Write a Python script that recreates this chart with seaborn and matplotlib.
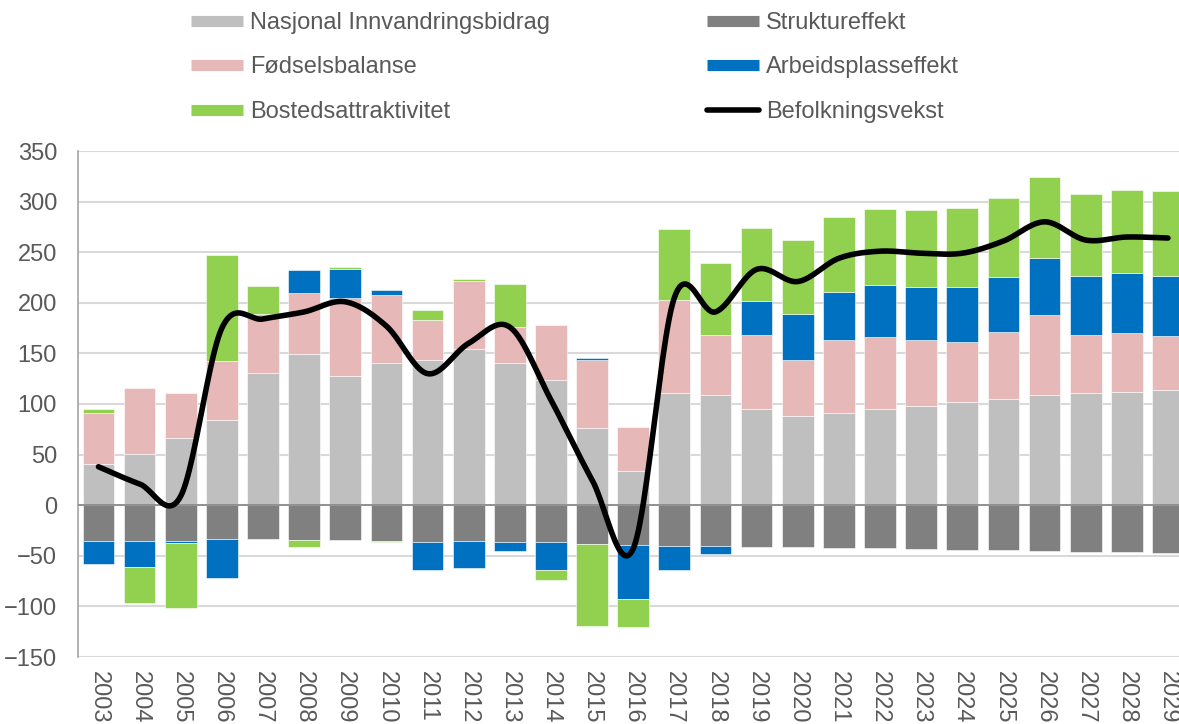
import numpy as np
import pandas as pd
import matplotlib
matplotlib.use("Agg")
import matplotlib.pyplot as plt
import seaborn as sns
from matplotlib.lines import Line2D

years = [str(y) for y in range(2003, 2030)]

nasjonal = [41, 51, 66.5, 84, 131, 149, 128, 141, 143, 154, 141, 124, 76, 34, 111,
            109, 95.5, 88.6, 91.6, 95.5, 98.5, 102, 105.4, 108.4, 111, 112.3, 114.3]
struktur = [-35, -35, -35, -33, -33, -34, -34, -35, -36, -35, -36, -36, -38.5, -39, -40,
            -40, -41, -41, -42, -42.5, -43, -44, -44.5, -45, -45.8, -46.4, -47]
fodsel = [50, 65, 44, 58.6, 58, 61, 76.5, 67, 40, 68, 35, 54, 67, 43, 92,
          59, 72.5, 54.7, 71.4, 70.5, 64.5, 59.7, 66.2, 79.6, 57.3, 58.3, 53]
arbeid = [-23, -26, -2.5, -39, 0, 22, 29, 5, -28, -27.5, -9, -28, 2, -54, -24,
          -8, 34, 45.7, 48, 52, 52.7, 54, 54, 56.4, 58, 58.4, 59.3]
bosted = [4.5, -36, -64, 105, 28, -7, 1.5, -1.5, 10, 1.5, 43, -9.5, -81, -27, 70,
          71, 72, 73.5, 74, 75, 76.3, 77.8, 78.4, 80, 81.3, 82, 83.4]
vekst = [38, 21, 9, 175, 184, 191, 201, 177, 130, 160, 176, 104, 25, -43, 205,
         191, 233, 221, 244, 251, 249, 249, 261, 280, 262, 265, 264]

series = [
    ("Nasjonal Innvandringsbidrag", nasjonal, "#BFBFBF"),
    ("Struktureffekt", struktur, "#808080"),
    ("Fødselsbalanse", fodsel, "#E6B8B7"),
    ("Arbeidsplasseffekt", arbeid, "#0070C0"),
    ("Bostedsattraktivitet", bosted, "#92D050"),
]

sns.set_style("white")
plt.rcParams["font.family"] = ["Liberation Sans", "DejaVu Sans"]

fig = plt.figure(figsize=(11.79, 7.24), dpi=100)
ax = fig.add_axes([77.9 / 1179, 67 / 724, 1110.6 / 1179, 506 / 724])

x = np.arange(len(years))
pos_base = np.zeros(len(years))
neg_base = np.zeros(len(years))
for name, vals, col in series:
    v = np.array(vals, dtype=float)
    bottom = np.where(v >= 0, pos_base, neg_base)
    ax.bar(x, v, bottom=bottom, width=0.77, color=col, edgecolor="white",
           linewidth=0.4, zorder=2)
    pos_base = pos_base + np.where(v >= 0, v, 0)
    neg_base = neg_base + np.where(v < 0, v, 0)

# smoothed line like Excel (Bezier through the points)
p = np.column_stack([x, vekst]).astype(float)
ext = np.vstack([p[0], p, p[-1]])
t = np.linspace(0, 1, 25)[:, None]
curve = []
for i in range(len(p) - 1):
    p0, p1, p2, p3 = ext[i], ext[i + 1], ext[i + 2], ext[i + 3]
    c1 = p1 + (p2 - p0) / 6
    c2 = p2 - (p3 - p1) / 6
    seg = ((1 - t) ** 3) * p1 + 3 * ((1 - t) ** 2) * t * c1 + 3 * (1 - t) * t ** 2 * c2 + t ** 3 * p2
    curve.append(seg if i == 0 else seg[1:])
curve = np.vstack(curve)
line_df = pd.DataFrame({"x": curve[:, 0], "y": curve[:, 1]})
sns.lineplot(data=line_df, x="x", y="y", ax=ax, color="black", linewidth=4,
             sort=False, estimator=None, zorder=4, solid_capstyle="round")

ax.axhline(0, color="#8C8C8C", linewidth=1.3, zorder=3)
ax.set_xlim(-0.5, len(years) - 0.5)
ax.set_ylim(-150, 350)
ax.set_yticks(range(-150, 351, 50))
ax.yaxis.grid(True, color="#D9D9D9", linewidth=1.5, zorder=0)
ax.set_axisbelow(True)
ax.set_xticks(x)
ax.set_xticklabels(years, rotation=-90)
ax.tick_params(axis="both", length=0, labelsize=17, labelcolor="#595959")
ax.tick_params(axis="y", pad=15)
ax.tick_params(axis="x", pad=10)
for s in ["top", "right", "bottom"]:
    ax.spines[s].set_visible(False)
ax.spines["left"].set_color("#A6A6A6")
ax.spines["left"].set_linewidth(1.2)
ax.set_xlabel("")
ax.set_ylabel("")

handles = [Line2D([], [], color=c, lw=8, solid_capstyle="butt") for _, _, c in series]
handles.append(Line2D([], [], color="black", lw=4, solid_capstyle="round"))
labels = [s[0] for s in series] + ["Befolkningsvekst"]
order = [0, 2, 4, 1, 3, 5]
fig.legend([handles[i] for i in order], [labels[i] for i in order],
           loc="upper left", bbox_to_anchor=(191 / 1179, 1 - 12 / 724), ncol=2,
           frameon=False, fontsize=17, labelcolor="#595959", handlelength=2.2,
           handletextpad=0.3, labelspacing=0.95, columnspacing=6.65,
           borderpad=0, borderaxespad=0)

fig.savefig("out.png", dpi=100)
